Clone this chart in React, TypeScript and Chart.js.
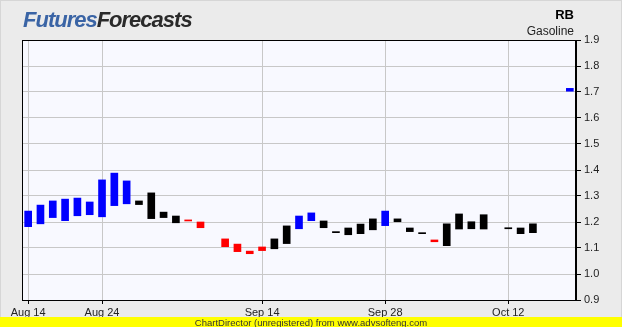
import React, { useEffect, useRef } from "react";
import { Chart, registerables } from "chart.js";

Chart.register(...registerables);

// Category slots (trading days); only some carry an axis label
const categories: string[] = [
  "Aug 14", "", "", "", "", "", "Aug 24", "", "", "", "",
  "", "", "", "", "", "", "", "", "Sep 14", "", "",
  "", "", "", "", "", "", "", "Sep 28", "", "", "",
  "", "", "", "", "", "", "Oct 12", "", "", "", "", "",
];

// Upper and lower ends of each floating bar
const barHigh: (number | null)[] = [
  1.242, 1.265, 1.281, 1.288, 1.292, 1.277, 1.362, 1.388, 1.358, 1.281, 1.312,
  1.238, 1.223, 1.208, 1.2, null, 1.135, 1.115, 1.088, 1.104, 1.135, 1.185,
  1.223, 1.235, 1.204, 1.163, 1.177, 1.192, 1.212, 1.242, 1.212, 1.177, 1.159,
  1.131, 1.193, 1.231, 1.201, 1.228, null, 1.178, 1.177, 1.193, null, null, 1.714,
];
const barLow: (number | null)[] = [
  1.182, 1.193, 1.217, 1.205, 1.224, 1.228, 1.22, 1.263, 1.27, 1.267, 1.213,
  1.217, 1.197, 1.204, 1.178, null, 1.105, 1.086, 1.078, 1.09, 1.097, 1.117,
  1.174, 1.205, 1.178, 1.159, 1.151, 1.155, 1.17, 1.186, 1.201, 1.163, 1.155,
  1.124, 1.109, 1.173, 1.174, 1.173, null, 1.174, 1.155, 1.159, null, null, 1.703,
];
// Signal of each bar: B = blue, K = black, R = red
const signal: string[] = [
  "B", "B", "B", "B", "B", "B", "B", "B", "B", "K", "K",
  "K", "K", "R", "R", "", "R", "R", "R", "R", "K", "K",
  "B", "B", "K", "K", "K", "K", "K", "B", "K", "K", "K",
  "R", "K", "K", "K", "K", "", "K", "K", "K", "", "", "B",
];

const yMin = 0.9;
const yMax = 1.9;
const yStep = 0.1;

const FONT = "'Liberation Sans', Arial, sans-serif";
const signalColor: Record<string, string> = { B: "#0000ff", K: "#000000", R: "#ff0000", "": "#000000" };

export default function App() {
  const ref = useRef<HTMLCanvasElement | null>(null);

  useEffect(() => {
    const canvas = ref.current;
    if (!canvas) return;

    const decor = {
      id: "decor",
      beforeDraw(chart: any) {
        const { ctx, chartArea: a } = chart;
        ctx.save();
        ctx.fillStyle = "#ebebeb";
        ctx.fillRect(0, 0, chart.width, chart.height);
        ctx.strokeStyle = "#d6d6d6";
        ctx.lineWidth = 1;
        ctx.strokeRect(0.5, 0.5, chart.width - 1, chart.height - 1);
        ctx.fillStyle = "#f8f9ff";
        ctx.fillRect(a.left, a.top, a.right - a.left, a.bottom - a.top);
        ctx.restore();
      },
      afterDraw(chart: any) {
        const { ctx, chartArea: a } = chart;
        ctx.save();
        ctx.strokeStyle = "#000";
        ctx.lineWidth = 1;
        ctx.strokeRect(a.left + 0.5, a.top + 0.5, a.right - a.left - 1, a.bottom - a.top);

        // logo
        ctx.textBaseline = "alphabetic";
        ctx.textAlign = "left";
        ctx.font = `italic bold 22px ${FONT}`;
        (ctx as any).letterSpacing = "-1px";
        ctx.fillStyle = "#3a64a5";
        ctx.fillText("Futures", 23, 27);
        const w = ctx.measureText("Futures").width;
        ctx.fillStyle = "#2a2a2a";
        ctx.fillText("Forecasts", 23 + w, 27);
        (ctx as any).letterSpacing = "0px";

        // title
        ctx.textAlign = "right";
        ctx.fillStyle = "#000";
        ctx.font = `bold 13px ${FONT}`;
        ctx.fillText("RB", 574, 19);
        ctx.font = `12px ${FONT}`;
        ctx.fillStyle = "#222";
        ctx.fillText("Gasoline", 574, 35);

        // footer
        ctx.fillStyle = "#ffff00";
        ctx.fillRect(0, 317, chart.width, chart.height - 317);
        ctx.fillStyle = "#333";
        ctx.textAlign = "center";
        ctx.font = `9.5px ${FONT}`;
        ctx.fillText("ChartDirector (unregistered) from www.advsofteng.com", 311, 325.5);
        ctx.restore();
      },
    };

    const chart = new Chart(canvas, {
      type: "bar",
      data: {
        labels: categories,
        datasets: [
          {
            data: barLow.map((lo, i) => (lo == null || barHigh[i] == null ? null : [lo, barHigh[i] as number])) as any,
            backgroundColor: signal.map((s) => signalColor[s]),
            borderWidth: 0,
            barThickness: 7,
          },
        ],
      },
      options: {
        responsive: false,
        animation: false,
        devicePixelRatio: 1,
        layout: { padding: { left: 22, top: 40, right: 0, bottom: 0 } },
        plugins: { legend: { display: false }, tooltip: { enabled: false } },
        scales: {
          x: {
            type: "category",
            offset: true,
            grid: {
              offset: false,
              color: (c: any) => (categories[c.index] ? "#c8c8c8" : "rgba(0,0,0,0)"),
              tickColor: (c: any) => (categories[c.index] ? "#000" : "rgba(0,0,0,0)"),
              tickLength: 4,
              lineWidth: 1,
            },
            border: { color: "#000", width: 1 },
            ticks: {
              autoSkip: false,
              maxRotation: 0,
              minRotation: 0,
              padding: 2,
              color: "#222",
              font: { family: FONT, size: 11 },
              callback: (_v: any, i: number) => categories[i],
            },
            afterFit: (s: any) => {
              s.height = 27;
            },
          },
          y: {
            position: "right",
            min: yMin,
            max: yMax,
            grid: { color: "#c8c8c8", tickColor: "#000", tickLength: 5, lineWidth: 1 },
            border: { color: "#000", width: 1 },
            ticks: {
              stepSize: yStep,
              padding: 3,
              color: "#222",
              font: { family: FONT, size: 11 },
              callback: (v: any) => Number(v).toFixed(1),
            },
            afterFit: (s: any) => {
              s.width = 46;
            },
          },
        },
      },
      plugins: [decor],
    });

    return () => chart.destroy();
  }, []);

  return (
    <div style={{ position: "fixed", left: 0, top: 0, width: 622, height: 327 }}>
      <canvas ref={ref} width={622} height={327} style={{ display: "block", width: 622, height: 327 }} />
    </div>
  );
}
